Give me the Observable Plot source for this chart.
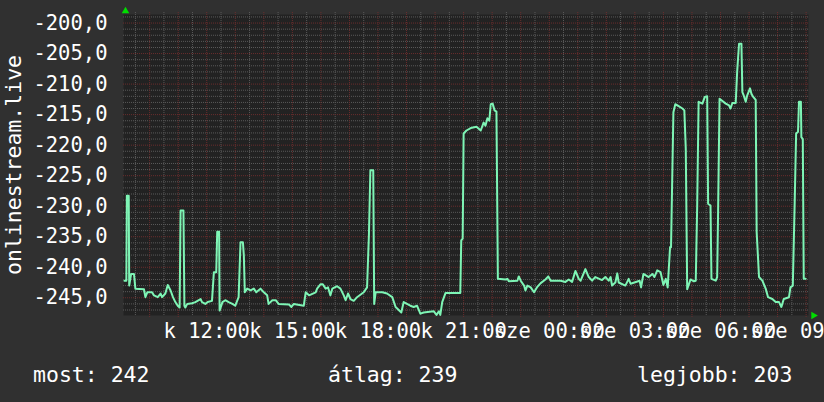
<!DOCTYPE html>
<html><head><meta charset="utf-8">
<script src="https://cdn.jsdelivr.net/npm/d3@7"></script>
<script src="https://cdn.jsdelivr.net/npm/@observablehq/plot@0.6"></script>
<style>
html,body{margin:0;padding:0;background:#303030;}
#wrap{position:relative;width:824px;height:402px;background:#303030;overflow:hidden;font-family:"DejaVu Sans Mono",monospace;color:#fff;}
.stat{position:absolute;top:362px;font-size:21.5px;line-height:25px;white-space:pre;color:#fff;}
</style></head>
<body><div id="wrap"></div>
<script>
// ---- data ----
const times = [
"09:07","09:11","09:12","09:16","09:17","09:21","09:27","09:30","09:48","09:51",
"09:55","10:05","10:09","10:17","10:23","10:26","10:33","10:38","10:44","10:49",
"10:54","10:59","11:03","11:05","11:11","11:13","11:15","11:19","11:29","11:36",
"11:47","11:50","11:57","12:02","12:11","12:15","12:20","12:22","12:26","12:27",
"12:33","12:39","12:46","12:54","13:00","13:07","13:11","13:16","13:18","13:20",
"13:25","13:32","13:39","13:44","13:53","14:00","14:07","14:10","14:18","14:25",
"14:31","14:53","14:58","15:03","15:24","15:28","15:35","15:49","15:52","15:59",
"16:04","16:10","16:15","16:20","16:24","16:34","16:41","16:48","16:52","16:57",
"17:02","17:09","17:16","17:30","17:37","17:41","17:44","17:50","17:52","17:55",
"18:09","18:19","18:30","18:37","18:49","18:54","19:08","19:15","19:22","19:29",
"19:36","19:57","20:03","20:08","20:11","20:15","20:22","20:53","20:55","20:58",
"21:00","21:06","21:15","21:27","21:36","21:42","21:46","21:50","21:54","21:57",
"22:01","22:05","22:09","22:12","22:28","22:32","22:35","22:53","22:56","23:00",
"23:07","23:10","23:14","23:21","23:28","23:35","23:42","23:52","23:58","00:03",
"00:24","00:34","00:41","00:48","00:55","01:02","01:06","01:16","01:23","01:30",
"01:37","01:51","01:58","02:05","02:09","02:12","02:19","02:23","02:26","02:40",
"02:47","02:51","03:10","03:13","03:18","03:29","03:37","03:41","03:47","03:54",
"04:00","04:05","04:09","04:14","04:16","04:21","04:25","04:32","04:40","04:44",
"04:47","04:50","04:57","05:04","05:08","05:11","05:14","05:22","05:27","05:32",
"05:34","05:39","05:41","05:50","05:53","05:55","05:58","06:11","06:18","06:21",
"06:25","06:32","06:35","06:39","06:44","06:46","06:49","06:53","06:56","07:02",
"07:05","07:08","07:14","07:16","07:21","07:28","07:35","07:40","07:49","07:56",
"08:03","08:08","08:13","08:24","08:27","08:32","08:36","08:39","08:43","08:45",
"08:49","08:50","08:53","08:55","08:59"
];
const values = [
-242.2,-242.2,-228.3,-228.3,-243.0,-241.1,-241.1,-243.5,-243.6,-244.9,
-244.1,-244.1,-244.6,-244.9,-244.3,-244.9,-244.3,-242.9,-243.8,-244.9,
-245.7,-246.3,-246.6,-230.7,-230.7,-246.3,-246.6,-246.0,-245.9,-245.7,
-245.2,-245.7,-246.0,-245.7,-245.5,-240.8,-240.8,-234.2,-234.2,-247.1,
-245.7,-245.4,-245.7,-246.0,-246.3,-244.9,-235.9,-235.9,-238.1,-244.1,
-243.5,-243.8,-243.5,-244.1,-243.5,-244.1,-244.6,-246.0,-245.4,-245.4,
-246.0,-246.1,-246.5,-246.0,-246.3,-244.1,-244.6,-244.1,-243.5,-242.8,
-242.8,-243.5,-243.3,-244.6,-243.5,-243.1,-243.5,-244.6,-245.4,-244.3,
-245.2,-245.5,-244.9,-244.1,-243.3,-234.5,-224.1,-224.1,-246.0,-244.1,
-244.1,-244.3,-244.9,-246.5,-247.4,-245.7,-246.3,-246.5,-246.3,-247.6,
-247.4,-247.2,-247.8,-247.2,-247.8,-245.7,-244.2,-244.2,-235.6,-235.3,
-218.1,-217.6,-217.2,-217.0,-217.6,-216.3,-216.8,-215.6,-216.0,-213.3,
-213.2,-214.3,-214.5,-241.9,-242.0,-241.9,-242.3,-242.2,-241.5,-242.2,
-243.0,-243.8,-243.0,-243.3,-244.1,-243.2,-242.6,-242.0,-241.5,-242.2,
-242.2,-242.4,-242.0,-242.4,-240.6,-241.9,-242.2,-240.3,-241.6,-242.2,
-241.6,-242.1,-241.6,-242.2,-241.6,-243.0,-242.5,-241.0,-242.5,-243.0,
-241.9,-242.7,-242.2,-243.3,-241.1,-241.6,-241.1,-241.6,-240.5,-240.8,
-242.9,-241.9,-243.3,-236.7,-236.7,-214.6,-213.3,-213.6,-214.0,-214.3,
-220.6,-243.6,-242.0,-242.3,-242.2,-229.9,-212.9,-213.2,-212.1,-212.0,
-229.6,-229.9,-241.9,-242.2,-241.6,-230.7,-212.4,-213.2,-213.5,-214.0,
-213.1,-213.1,-208.0,-203.4,-203.4,-211.3,-211.9,-212.9,-211.9,-210.7,
-211.6,-212.0,-212.6,-234.2,-241.6,-242.2,-243.5,-244.9,-245.2,-245.7,
-245.7,-246.5,-245.2,-244.9,-243.3,-243.0,-229.3,-218.1,-217.8,-212.9,
-212.9,-218.7,-219.0,-241.9,-241.9
];
const xTickTimes  = ["12:00","15:00","18:00","21:00","00:00","03:00","06:00","09:00"];
const xTickLabels = ["k 12:00","k 15:00","k 18:00","k 21:00","sze 00:00","sze 03:00","sze 06:00","sze 09:00"];
const yTicks = [-200,-205,-210,-215,-220,-225,-230,-235,-240,-245];
const yTitle = "onlinestream.live";
const statLabels = ["most: 242","átlag: 239","legjobb: 203"];

// ---- build ----
function toDates(list){
  let day = 2, last = -1;
  return list.map(s => {
    const [h,m] = s.split(":").map(Number);
    const mins = h*60+m;
    if (mins < last) day++;
    last = mins;
    return new Date(Date.UTC(2024,0,day,h,m));
  });
}
const tDates = toDates(times);
const data = tDates.map((t,i) => ({t, v: values[i]}));
const tickDates = toDates(xTickTimes);
const labelMap = new Map(tickDates.map((d,i) => [d.getTime(), xTickLabels[i]]));

const start = new Date(Date.UTC(2024,0,2,9,5));
const end   = new Date(Date.UTC(2024,0,3,9,5));
const majorX = d3.utcHour.range(start, end);
const minorX = d3.utcMinute.every(30).range(start, end).filter(d => d.getUTCMinutes() === 30);
const minorY = d3.range(-247, -198, 1).filter(v => v % 5 !== 0);
const majorY = yTicks;

const chart = Plot.plot({
  width: 824, height: 402,
  marginLeft: 123, marginRight: 16, marginTop: 14, marginBottom: 87,
  style: {background: "#303030", color: "#ffffff", fontFamily: "DejaVu Sans Mono", fontSize: "20.5px"},
  x: {type: "utc", domain: [start, end]},
  y: {domain: [-247.9, -198.6]},
  marks: [
    Plot.frame({fill: "#222222", stroke: null}),
    Plot.ruleX(minorX, {stroke: "#5a5a5a", strokeDasharray: "1,1", insetTop: -2}),
    Plot.ruleY(minorY, {stroke: "#5a5a5a", strokeDasharray: "1,1"}),
    Plot.ruleX(majorX, {stroke: "#6a2d2d", strokeDasharray: "1,1", insetTop: -2, insetBottom: -2}),
    Plot.ruleY(majorY, {stroke: "#6a2d2d", strokeDasharray: "1,1"}),
    Plot.axisX({ticks: tickDates, tickFormat: d => labelMap.get(d.getTime()), tickSize: 0, tickPadding: 8, fontSize: 20.5, fill: "#ffffff", label: null}),
    Plot.axisY({ticks: yTicks, tickFormat: d => d.toFixed(1).replace(".", ","), tickSize: 0, tickPadding: 16, fontSize: 20.5, fill: "#ffffff", label: null}),
    Plot.line(data, {x: "t", y: "v", stroke: "#7ef5b5", strokeWidth: 2}),
    Plot.text([yTitle], {text: d => d, frameAnchor: "left", textAnchor: "middle", dx: -109, rotate: -90, fontSize: 21.5, fill: "#ffffff"}),
    Plot.dot([0], {frameAnchor: "top-left", dx: 2, dy: -3.5, symbol: "triangle", r: 2.8, fill: "#00dd00", stroke: null}),
    Plot.dot([0], {frameAnchor: "bottom-right", dx: 5, dy: 0, symbol: "triangle", rotate: 90, r: 2.8, fill: "#00dd00", stroke: null})
  ]
});
const wrap = document.getElementById("wrap");
wrap.appendChild(chart);
const statX = [33, 328, 637];
statLabels.forEach((s,i) => {
  const d = document.createElement("div");
  d.className = "stat";
  d.style.left = statX[i] + "px";
  d.textContent = s;
  wrap.appendChild(d);
});
</script></body></html>
